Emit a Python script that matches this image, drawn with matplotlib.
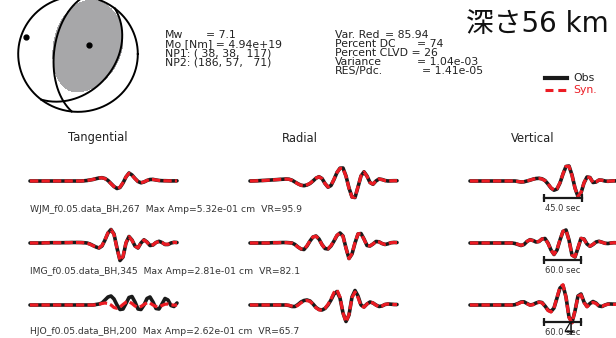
import numpy as np
import matplotlib
matplotlib.use("Agg")
import matplotlib.pyplot as plt
from matplotlib.lines import Line2D

plt.rcParams['font.family'] = ['DejaVu Sans']

W, H = 616, 338

# mechanism (NP1 used for the tensor, NP2 for the second nodal line)
np1 = (38, 38, 117)
np2 = (186, 57, 71)
clvd_pct = 26

left_keys = ["Mw", "Mo [Nm] = 4.94e+19", "NP1: ( 38, 38,  117)", "NP2: (186, 57,   71)"]
left_vals = ["= 7.1", "", "", ""]
right_keys = ["Var. Red", "Percent DC", "Percent CLVD = 26", "Variance", "RES/Pdc."]
right_vals = ["= 85.94", "= 74", "", "= 1.04e-03", "= 1.41e-05"]
depth_title = "深さ56 km"

components = ["Tangential", "Radial", "Vertical"]
stations = [
    "WJM_f0.05.data_BH,267  Max Amp=5.32e-01 cm  VR=95.9",
    "IMG_f0.05.data_BH,345  Max Amp=2.81e-01 cm  VR=82.1",
    "HJO_f0.05.data_BH,200  Max Amp=2.62e-01 cm  VR=65.7",
]
trace_len = [174.0, 238.0, 238.0]   # seconds shown per row
bar_sec = [45.0, 60.0, 60.0]

# normalised displacement, 50 samples per trace
obs = [
    [  # WJM
        [0, 0, 0, 0, 0, 0, 0, 0, 0, 0, 0, 0, 0, 0, 0, 0, 0, 0, 0.2, 0.5,
         1.0, 1.5, 2.3, 3.0, 3.3, 2.5, 0.5, -2.5, -5.5, -7.5, -6.5, -2.0, 4.0, 8.0, 6.0, 2.5, -0.5, -1.8, -1.0, 0.5,
         1.5, 1.6, 1.0, 0.5, 0.3, 0.3, 0.2, 0.1, 0.1, 0.2],
        [0, 0.1, 0.2, 0.3, 0.5, 0.6, 0.8, 1.0, 1.2, 1.4, 1.6, 1.8, 2.0, 1.8, 0.8, -1.0, -2.8, -4.2, -4.7, -4.0,
         -2.5, 0.0, 2.8, 4.3, 2.5, -2.5, -6.2, -4.5, 1.5, 8.5, 12.8, 13.0, 5.0, -7.0, -16.0, -16.5, -6.0, 5.0, 9.2, 5.0,
         -1.5, -3.3, 0.0, 2.0, 1.5, 0.5, 0.0, 0.2, 0.3, 0.3],
        [0, 0, 0, 0, 0, 0, 0, 0, 0, 0, 0, 0, 0, 0, 0, 0, -0.5, -1.0, -0.8, 0.0,
         0.8, 1.8, 2.5, 2.7, 2.2, 0.5, -3.0, -7.0, -9.2, -8.0, -2.0, 7.0, 14.5, 15.0, 6.0, -7.0, -15.5, -12.0, -2.0, 4.0,
         3.5, -1.5, -1.0, 1.0, 0.8, 0.0, -0.3, 0.0, 0.2, 0.0],
    ],
    [  # IMG
        [0, 0, 0, 0, 0, 0.2, 0.2, 0.3, 0.3, 0.3, 0.3, 0.3, 0.4, 0.4, 0.5, 0.5, 0.5, 0.5, 0.3, 0.0,
         -1.0, -2.5, -4.0, -5.0, -3.0, 3.0, 10.0, 13.5, 9.0, -5.0, -17.5, -14.0, 0.0, 6.5, 3.0, -3.0, -5.0, 0.0, 3.2, 1.0,
         -2.5, -2.0, 0.5, 1.7, 0.5, -1.5, -1.5, 0.0, 0.7, 0.5],
        [0, 0, 0, 0, 0, 0, 0, 0.2, 0.3, 0.3, 0.4, 0.5, 0.5, 0.3, 0.0, -1.5, -4.0, -6.0, -6.5, -3.0,
         2.0, 6.0, 7.0, 4.0, -1.5, -5.5, -6.0, -3.0, 2.0, 7.5, 10.0, 7.0, -5.0, -15.5, -11.0, 0.0, 9.0, 9.5, 4.0, -2.5,
         -3.0, -1.0, 1.5, 1.2, -0.5, -1.5, -0.8, 0.3, 0.6, 0.5],
        [0, 0, 0, 0, 0, 0, 0, 0, 0, 0, 0, 0, 0, 0, 0, -0.5, -1.5, -2.5, -1.5, 1.5,
         3.3, 2.5, 1.0, 1.5, 4.0, 4.5, 0.0, -7.0, -11.5, -7.0, 3.0, 11.5, 13.0, 3.0, -12.0, -14.0, -5.0, 4.5, 4.0, -1.0,
         -3.3, -1.5, 1.0, 1.7, 0.8, -0.3, -0.5, 0.0, 0.3, 0.2],
    ],
    [  # HJO
        [0, 0, 0, 0, 0, 0, 0, 0, 0, 0, 0, 0, 0, 0, 0, 0, 0, 0, 0, 0, 0, 0,
         0.5, 1.0, 2.0, 5.0, 8.0, 9.0, 6.0, 0.0, -4.5, -4.0, 1.5, 7.5, 8.5, 3.0, -4.0, -4.5, 0.0, 6.5, 8.0, 3.0,
         -3.5, -4.0, 1.0, 6.5, 5.0, -0.5, -1.5, 2.0],
        [0, 0, 0, 0, 0, 0, 0, 0, 0, 0, 0, 0, 0, -0.5, -1.5, -1.5, 0.5, 3.0, 4.5, 5.0,
         4.0, 1.0, -2.5, -4.5, -5.0, -3.5, 0.0, 5.0, 11.0, 13.5, 7.0, -8.0, -16.5, -10.0, 8.0, 14.5, 9.0, 0.0, -2.0, 1.0,
         3.0, 2.0, 0.0, -1.5, -1.0, 0.5, 1.0, 0.8, 0.5, 0.5],
        [0, 0, 0, 0, 0, 0, 0, 0, 0, 0, 0, 0, 0, 0, 0, 0.3, 1.5, 3.0, 3.2, 1.5,
         0.0, 0.5, 2.0, 3.0, 2.5, -1.0, -5.0, -6.5, -3.0, 7.0, 17.0, 19.5, 8.0, -12.0, -17.5, -6.0, 9.0, 11.0, 3.0, -1.5,
         1.5, 3.5, 2.0, -1.0, -1.5, 0.0, 1.0, 1.0, 0.8, 0.8],
    ],
]
syn = [
    [
        [0, 0, 0, 0, 0, 0, 0, 0, 0, 0, 0, 0, 0, 0, 0, 0, 0, 0, 0.2, 0.5,
         1.0, 1.6, 2.4, 3.0, 3.2, 2.3, 0.3, -2.7, -5.6, -7.4, -6.2, -1.6, 4.2, 7.8, 5.7, 2.3, -0.6, -1.7, -0.9, 0.6,
         1.4, 1.5, 1.0, 0.5, 0.3, 0.2, 0.2, 0.1, 0.1, 0.1],
        [0, 0.1, 0.2, 0.3, 0.4, 0.6, 0.8, 1.0, 1.2, 1.4, 1.6, 1.8, 1.9, 1.7, 0.7, -1.1, -2.9, -4.3, -4.6, -3.8,
         -2.3, 0.2, 2.9, 4.2, 2.3, -2.6, -6.0, -4.2, 1.8, 8.7, 12.6, 12.6, 4.6, -7.3, -16.2, -16.2, -5.6, 5.2, 9.0, 4.7,
         -1.6, -3.1, 0.2, 2.0, 1.4, 0.4, 0.0, 0.2, 0.3, 0.3],
        [0, 0, 0, 0, 0, 0, 0, 0, 0, 0, 0, 0, 0, 0, 0, 0, -0.5, -0.9, -0.7, 0.1,
         0.9, 1.8, 2.5, 2.6, 2.0, 0.3, -2.8, -6.8, -9.0, -7.6, -1.6, 7.3, 14.6, 14.7, 5.6, -7.3, -15.3, -11.6, -1.7, 4.1,
         3.3, -1.5, -0.9, 1.0, 0.7, 0.0, -0.3, 0.0, 0.2, 0.0],
    ],
    [
        [0, 0, 0, 0, 0, 0.2, 0.2, 0.3, 0.3, 0.3, 0.3, 0.3, 0.4, 0.4, 0.5, 0.5, 0.5, 0.4, 0.2, -0.2,
         -1.2, -2.7, -4.0, -4.8, -2.6, 3.4, 10.2, 13.2, 8.5, -5.5, -17.3, -13.5, 0.4, 6.3, 2.7, -3.1, -4.8, 0.2, 3.0, 0.8,
         -2.4, -1.8, 0.5, 1.5, 0.4, -1.3, -1.3, 0.0, 0.6, 0.4],
        [0, 0, 0, 0, 0, 0, 0, 0.2, 0.3, 0.3, 0.4, 0.4, 0.4, 0.2, -0.1, -1.6, -4.1, -5.9, -6.2, -2.7,
         2.3, 6.1, 6.8, 3.7, -1.7, -5.5, -5.8, -2.7, 2.4, 7.8, 10.0, 6.6, -5.4, -15.6, -10.6, 0.4, 9.2, 9.3, 3.7, -2.6,
         -2.9, -0.9, 1.5, 1.1, -0.5, -1.4, -0.7, 0.3, 0.5, 0.4],
        [0, 0, 0, 0, 0, 0, 0, 0, 0, 0, 0, 0, 0, 0, 0, -0.4, -1.3, -2.3, -1.3, 1.6,
         3.2, 2.3, 0.9, 1.6, 4.1, 4.3, -0.3, -7.2, -11.3, -6.6, 3.4, 11.8, 12.8, 2.6, -12.2, -13.7, -4.6, 4.7, 3.8, -1.2,
         -3.2, -1.3, 1.0, 1.6, 0.7, -0.3, -0.4, 0.0, 0.3, 0.2],
    ],
    [
        [0, 0, 0, 0, 0, 0, 0, 0, 0, 0, 0, 0, 0, 0, 0, 0, 0, 0, 0, 0, 0, 0,
         0.3, 0.8, 1.5, 2.0, 1.5, 0.0, -2.5, -3.3, -2.0, 0.5, 2.8, 3.3, 1.5, -1.0, -2.3, -1.5, 0.5, 2.3, 2.0, 0.0,
         -1.5, -1.7, -0.5, 0.8, 1.0, 0.3, -0.2, 0.0],
        [0, 0, 0, 0, 0, 0, 0, 0, 0, 0, 0, 0, 0, -0.3, -1.2, -1.8, -0.2, 2.2, 3.8, 4.5,
         3.6, 0.8, -2.8, -4.8, -5.2, -3.3, 0.6, 6.0, 12.5, 15.0, 7.8, -8.0, -16.8, -9.5, 7.5, 13.0, 7.5, -0.8, -2.2, 1.0,
         3.2, 2.0, -0.2, -1.7, -1.0, 0.6, 1.0, 0.8, 0.5, 0.4],
        [0, 0, 0, 0, 0, 0, 0, 0, 0, 0, 0, 0, 0, 0, 0, 0.3, 1.2, 2.6, 2.9, 1.3,
         -0.2, 0.4, 1.8, 2.8, 2.2, -1.4, -5.6, -7.0, -3.0, 7.8, 18.0, 20.3, 7.6, -12.5, -17.8, -5.6, 8.6, 10.2, 2.4, -1.8,
         0.8, 2.6, 1.5, -1.0, -1.3, 0.0, 0.8, 0.8, 0.6, 0.6],
    ],
]

OBS_C = "#1a1a1a"
SYN_C = "#ec1c24"
TXT_C = "#222222"

fig = plt.figure(figsize=(W / 100, H / 100), dpi=100)


def px_axes(x0, y0, w, h):
    # axes placed in pixel coordinates, y measured from the top
    return fig.add_axes([x0 / W, 1 - (y0 + h) / H, w / W, h / H])


def ftext(x, y, s, **kw):
    kw.setdefault("color", TXT_C)
    kw.setdefault("va", "center")
    return fig.text(x / W, 1 - y / H, s, **kw)


# ---- beach ball -------------------------------------------------------
def mt_from_sdr(strike, dip, rake):
    f, d, l = np.radians([strike, dip, rake])
    mxx = -(np.sin(d) * np.cos(l) * np.sin(2 * f) + np.sin(2 * d) * np.sin(l) * np.sin(f) ** 2)
    mxy = np.sin(d) * np.cos(l) * np.cos(2 * f) + 0.5 * np.sin(2 * d) * np.sin(l) * np.sin(2 * f)
    mxz = -(np.cos(d) * np.cos(l) * np.cos(f) + np.cos(2 * d) * np.sin(l) * np.sin(f))
    myy = np.sin(d) * np.cos(l) * np.sin(2 * f) - np.sin(2 * d) * np.sin(l) * np.cos(f) ** 2
    myz = -(np.cos(d) * np.cos(l) * np.sin(f) - np.cos(2 * d) * np.sin(l) * np.cos(f))
    mzz = np.sin(2 * d) * np.sin(l)
    return np.array([[mxx, mxy, mxz], [mxy, myy, myz], [mxz, myz, mzz]])


def project(v):
    # lower hemisphere equal-area, v in (N, E, Down)
    v = np.atleast_2d(v)
    v = np.where(v[:, 2:3] < 0, -v, v)
    inc = np.arccos(np.clip(v[:, 2], -1, 1))
    az = np.arctan2(v[:, 1], v[:, 0])
    r = np.sqrt(2) * np.sin(inc / 2)
    return r * np.sin(az), r * np.cos(az)


M_dc = mt_from_sdr(*np1)
evals, evecs = np.linalg.eigh(M_dc)
# add the CLVD part: intermediate axis gets -eps, P shrinks to keep the trace zero
eps = clvd_pct / 200.0
M = evecs @ np.diag([-(1 - eps), -eps, 1.0]) @ evecs.T

bx = px_axes(17, -5, 122, 118)
g = np.linspace(-1, 1, 501)
X, Y = np.meshgrid(g, g)
R = np.hypot(X, Y)
inc = 2 * np.arcsin(np.clip(R / np.sqrt(2), 0, 1))
az = np.arctan2(X, Y)
n = np.stack([np.sin(inc) * np.cos(az), np.sin(inc) * np.sin(az), np.cos(inc)])
amp = np.einsum("i...,ij,j...->...", n, M, n)
amp[R > 1] = np.nan
bx.contourf(X, Y, amp, levels=[0, 10], colors=["#a7a7a9"])

t = np.linspace(0, np.pi, 200)
for s, d, _ in (np1, np2):
    fr, dr = np.radians(s), np.radians(d)
    sv = np.array([np.cos(fr), np.sin(fr), 0.0])
    dv = np.array([np.cos(dr) * np.cos(fr + np.pi / 2), np.cos(dr) * np.sin(fr + np.pi / 2), np.sin(dr)])
    pts = np.outer(np.cos(t), sv) + np.outer(np.sin(t), dv)
    px, py = project(pts)
    bx.plot(px, py, color="black", lw=1.4)
tt = np.linspace(0, 2 * np.pi, 300)
bx.plot(np.cos(tt), np.sin(tt), color="black", lw=1.4)

for k in (0, 2):   # P and T axes
    ex, ey = project(evecs[:, k])
    bx.plot(ex, ey, "o", color="black", ms=3.5)
bx.set_xlim(-1.02, 1.02)
bx.set_ylim(-1.02, 1.02)
bx.axis("off")

# ---- header text ------------------------------------------------------
for i, (k, v) in enumerate(zip(left_keys, left_vals)):
    y = 35 + 9.2 * i
    ftext(165, y, k, fontsize=7.8)
    if v:
        ftext(206, y, v, fontsize=7.8)
val_x = [385, 417, 0, 417, 422]
for i, (k, v) in enumerate(zip(right_keys, right_vals)):
    y = 35 + 9.1 * i
    ftext(335, y, k, fontsize=7.8)
    if v:
        ftext(val_x[i], y, v, fontsize=7.8)

ftext(466, 24, depth_title, fontsize=20, family=["DejaVu Sans", "Noto Sans CJK JP"], color="#111111")

fig.add_artist(Line2D([545 / W, 567 / W], [1 - 78 / H] * 2, color=OBS_C, lw=3.0, transform=fig.transFigure))
fig.add_artist(Line2D([545 / W, 567 / W], [1 - 90 / H] * 2, color=SYN_C, lw=2.2, ls=(0, (2.6, 1.6)),
                      transform=fig.transFigure))
ftext(573, 78, "Obs", fontsize=7.8)
ftext(573, 90, "Syn.", fontsize=7.8, color=SYN_C)

# ---- waveforms --------------------------------------------------------
col_x = [30, 250, 470]
col_title_x = [98, 300, 533]
row_y = [181, 243, 305]
label_y = [209, 271, 331]

for c, name in enumerate(components):
    ftext(col_title_x[c], 138, name, fontsize=8.3, ha="center")

for r in range(3):
    dur = trace_len[r]
    for c in range(3):
        ax = px_axes(col_x[c], row_y[r] - 25, 147, 50)
        o = np.array(obs[r][c])
        s = np.array(syn[r][c])
        tm = np.arange(len(o)) * dur / (len(o) - 1)
        ax.plot(tm, o, color=OBS_C, lw=2.6, solid_capstyle="round", clip_on=False)
        ax.plot(tm, s, color=SYN_C, lw=2.3, ls=(0, (2.6, 1.0)), clip_on=False)
        ax.set_xlim(0, dur)
        ax.set_ylim(-25, 25)
        ax.axis("off")
        if c == 0:
            ax.text(0, 0.5 - (label_y[r] - row_y[r]) / 50, stations[r], transform=ax.transAxes,
                    fontsize=6.7, color="#333333", va="center", ha="left", clip_on=False)
        if c == 2:
            b0 = dur * 74 / 147
            ax.plot([b0, b0 + bar_sec[r]], [-17, -17], color=OBS_C, lw=1.6, clip_on=False)
            ax.plot([b0, b0 + bar_sec[r]], [-17, -17], "|", color=OBS_C, ms=6, mew=1.6, clip_on=False)
            ax.text(b0 + bar_sec[r] / 2, -27.5, "%.1f sec" % bar_sec[r], fontsize=6, color="#333333",
                    ha="center", va="center", clip_on=False)

ftext(568, 330, "4", fontsize=12, ha="center", color="#111111")

fig.savefig("out.png", dpi=100)
